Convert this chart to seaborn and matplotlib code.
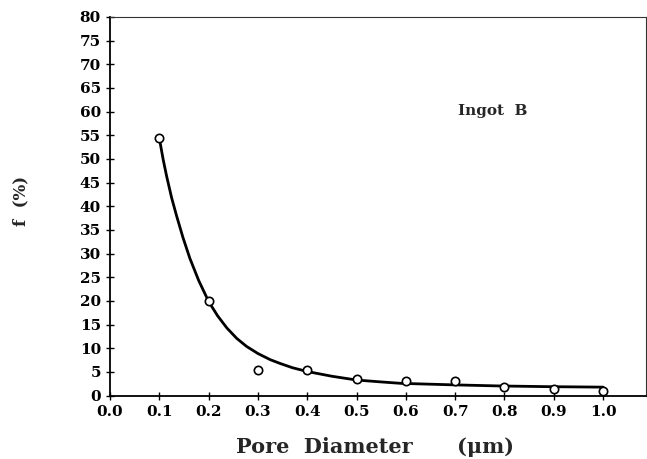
import matplotlib
matplotlib.use("Agg")
import matplotlib.pyplot as plt
import seaborn as sns
import pandas as pd

# Measured points
pore_diameter = [0.1, 0.2, 0.3, 0.4, 0.5, 0.6, 0.7, 0.8, 0.9, 1.0]
f_percent = [54.4, 20.0, 5.4, 5.4, 3.6, 3.2, 3.1, 1.9, 1.35, 1.05]

# Fitted curve
curve_x = [0.1, 0.108, 0.115, 0.125, 0.135, 0.148, 0.162, 0.18, 0.2, 0.218,
           0.237, 0.257, 0.277, 0.3, 0.325, 0.345, 0.37, 0.4, 0.45, 0.5,
           0.55, 0.59, 0.64, 0.69, 0.79, 0.89, 1.0]
curve_y = [54.4, 49.8, 46.3, 41.8, 38.0, 33.4, 29.0, 24.3, 19.9, 16.9,
           14.3, 12.1, 10.4, 8.9, 7.6, 6.8, 5.9, 5.1, 4.1, 3.3,
           2.9, 2.6, 2.45, 2.3, 2.05, 1.9, 1.8]

x_ticks = [0.0, 0.1, 0.2, 0.3, 0.4, 0.5, 0.6, 0.7, 0.8, 0.9, 1.0]
y_ticks = list(range(0, 81, 5))

sns.set_style("ticks")
plt.rcParams['font.family'] = ['DejaVu Serif']

fig = plt.figure(figsize=(6.47, 4.59), dpi=100)
ax = fig.add_axes([0.170, 0.138, 0.8285, 0.825])

df_curve = pd.DataFrame({"x": curve_x, "y": curve_y})
df_pts = pd.DataFrame({"x": pore_diameter, "y": f_percent})

sns.lineplot(data=df_curve, x="x", y="y", ax=ax, color="black", linewidth=2.0,
             sort=False, estimator=None)
sns.scatterplot(data=df_pts, x="x", y="y", ax=ax, marker="o", s=36,
                facecolor="white", edgecolor="black", linewidth=1.2, zorder=5)

ax.set_xlim(0, 1.087)
ax.set_ylim(0, 80)
ax.set_xticks(x_ticks)
ax.set_xticklabels([f"{t:.1f}" for t in x_ticks])
ax.set_yticks(y_ticks)
ax.set_yticklabels([str(t) for t in y_ticks])
ax.tick_params(axis="both", direction="inout", length=6, width=1.0,
               labelsize=11, colors="black")
for lab in ax.get_xticklabels() + ax.get_yticklabels():
    lab.set_fontweight("bold")

for side in ["left", "bottom"]:
    ax.spines[side].set_linewidth(1.3)
    ax.spines[side].set_color("black")
for side in ["top", "right"]:
    ax.spines[side].set_visible(True)
    ax.spines[side].set_linewidth(0.8)
    ax.spines[side].set_color("#333333")

ax.set_xlabel("")
ax.set_ylabel("")
fig.text(324.5 / 647, 1 - 447 / 459, "Pore  Diameter", ha="center", va="center",
         fontsize=15, fontweight="bold")
fig.text(486 / 647, 1 - 447 / 459, "(μm)", ha="center", va="center",
         fontsize=15, fontweight="bold")
fig.text(0.032, 0.563, "f  (%)", ha="center", va="center", rotation=90,
         fontsize=12, fontweight="bold")
ax.text(0.714, 0.752, "Ingot  B", transform=ax.transAxes, ha="center",
        va="center", fontsize=11, fontweight="bold")

fig.savefig("out.png", dpi=100)
